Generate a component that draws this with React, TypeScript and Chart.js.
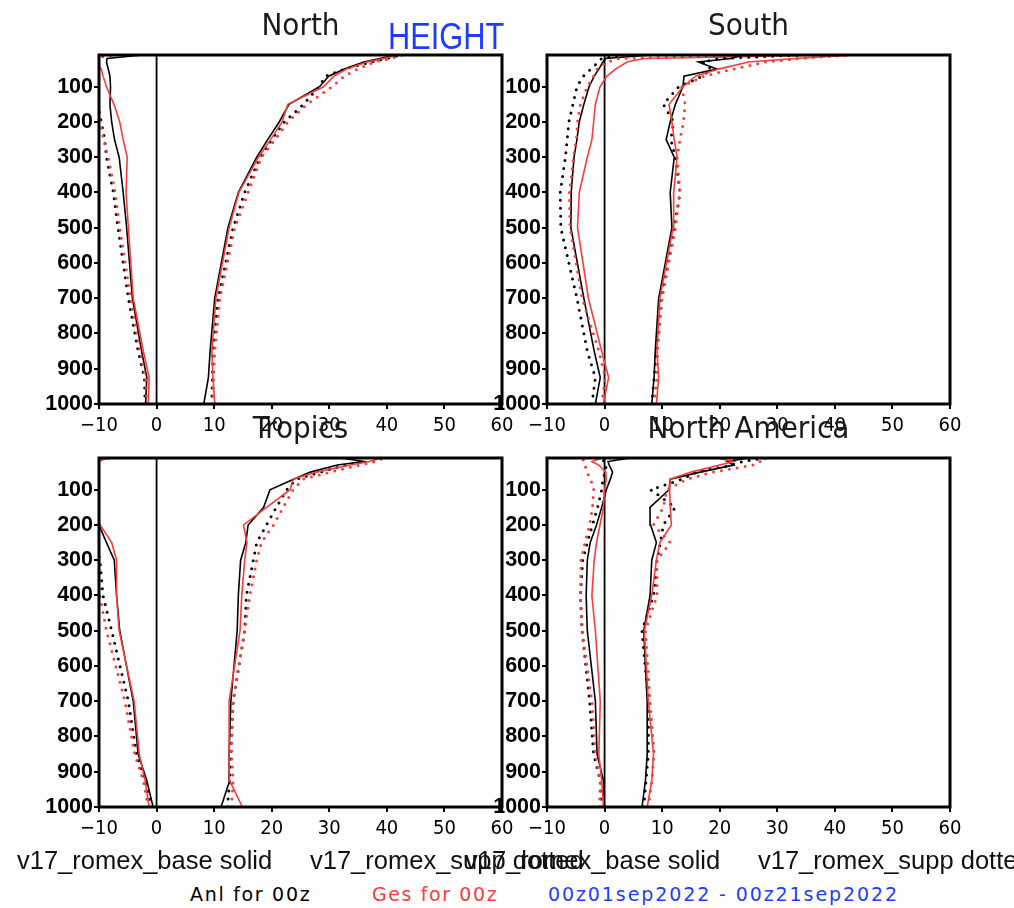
import React, { useEffect, useRef } from 'react';
import { Chart, registerables } from 'chart.js';

Chart.register(...registerables);

// ---------- data ----------
const levels = [1000, 925, 850, 700, 500, 400, 300, 250, 200, 150, 100, 70, 50, 30, 20, 10];
const xTickValues = [-10, 0, 10, 20, 30, 40, 50, 60];
const yTickValues = [100, 200, 300, 400, 500, 600, 700, 800, 900, 1000];
const panelTitles = ['North', 'South', 'Tropics', 'North America'];

// North
const northBiasBaseAnl = [-1.9, -1.7, -2.6, -4.2, -5.2, -5.8, -6.5, -7.3, -7.8, -8.1, -8.0, -8.1, -8.4, -8.7, -8.6, -2.5];
const northBiasSuppAnl = [-2.0, -2.1, -3.2, -4.9, -6.7, -7.5, -8.7, -9.0, -9.6, -10.2, -11, -11, -11, -11, -11, -9.0];
const northBiasBaseGes = [-1.45, -1.3, -2.3, -4.05, -4.9, -5.3, -5.1, -5.8, -6.4, -7.4, -8.7, -9.3, -9.6, -10.5, -11, -10.2];
const northBiasSuppGes = [-1.7, -1.9, -2.9, -4.5, -6.4, -7.2, -8.4, -9.2, -9.8, -10.5, -11, -11, -11, -11, -11, -7.5];
const northRmsBaseAnl = [8.2, 9.0, 9.3, 10.1, 12.4, 14.2, 17.4, 19.3, 21.3, 23.0, 28.3, 29.9, 32.6, 36.0, 38.8, 41.5];
const northRmsSuppAnl = [9.6, 9.7, 9.8, 10.7, 13.3, 15.3, 18.0, 20.0, 22.2, 25.5, 28.2, 29.4, 32.6, 37.2, 40.0, 42.3];
const northRmsBaseGes = [10.1, 9.8, 9.6, 10.3, 12.6, 14.3, 17.7, 19.8, 21.8, 22.8, 29.0, 30.8, 33.0, 36.6, 39.5, 42.0];
const northRmsSuppGes = [9.8, 9.9, 10.1, 11.0, 13.6, 15.9, 18.2, 20.6, 22.8, 26.1, 30.5, 32.6, 34.9, 37.8, 40.7, 42.8];

// South
const southBiasBaseAnl = [-1.6, -0.75, -1.8, -3.6, -5.85, -5.8, -5.3, -4.8, -4.4, -3.6, -2.7, -1.8, -1.0, -0.3, 0.1, 8.0];
const southBiasSuppAnl = [-2.2, -1.6, -3.0, -4.8, -7.6, -7.7, -6.8, -6.5, -6.2, -5.5, -4.8, -3.7, -2.4, -1.1, -0.5, 3.0];
const southBiasBaseGes = [-0.2, 0.7, -0.5, -2.8, -4.7, -4.4, -3.0, -2.2, -1.9, -1.6, -0.8, 0.4, 1.9, 3.9, 6.8, 40.0];
const southBiasSuppGes = [-0.5, 0.1, -1.0, -3.9, -6.0, -6.1, -5.4, -4.9, -4.7, -4.2, -3.0, -1.9, -1.3, 0.4, 2.5, 26.0];
const southRmsBaseAnl = [8.2, 8.6, 8.8, 9.4, 11.7, 11.4, 12.1, 10.7, 11.4, 12.3, 13.6, 13.8, 19.5, 16.3, 22.0, 24.0];
const southRmsSuppAnl = [8.2, 8.6, 9.0, 9.8, 12.1, 13.1, 12.3, 11.5, 12.0, 10.2, 12.9, 17.0, 18.5, 17.0, 20.0, 34.0];
const southRmsBaseGes = [9.0, 9.4, 9.1, 9.6, 11.9, 12.0, 12.6, 12.1, 11.7, 11.2, 13.6, 15.8, 19.8, 25.0, 33.0, 43.5];
const southRmsSuppGes = [8.6, 9.1, 9.2, 10.0, 12.3, 13.1, 12.6, 13.1, 13.7, 14.0, 13.4, 17.2, 22.4, 28.0, 34.0, 42.7];

// Tropics
const tropBiasBaseAnl = [-0.6, -1.7, -3.2, -4.05, -6.4, -6.95, -7.35, -8.7, -10.0, -11, -11, -11, -11, -11, -11, -9.0];
const tropBiasSuppAnl = [-0.9, -2.0, -3.5, -4.9, -7.8, -9.3, -9.85, -10.5, -11, -11, -11, -11, -11, -11, -11, -11];
const tropBiasBaseGes = [-1.3, -2.0, -3.0, -3.9, -6.5, -6.95, -6.95, -7.8, -9.8, -11, -11, -11, -11, -11, -11, -8.0];
const tropBiasSuppGes = [-1.45, -2.3, -3.8, -5.5, -8.7, -9.85, -10.1, -11, -11, -11, -11, -11, -11, -11, -11, -8.0];
const tropRmsBaseAnl = [11.2, 12.7, 12.6, 12.9, 14.0, 14.2, 14.6, 15.5, 15.9, 18.6, 19.7, 23.8, 26.7, 31.4, 36.0, 32.0];
const tropRmsSuppAnl = [12.3, 12.7, 12.9, 13.3, 15.3, 15.6, 16.8, 17.4, 19.1, 20.8, 22.6, 24.3, 28.4, 33.0, 35.9, 36.5];
const tropRmsBaseGes = [14.9, 12.7, 12.6, 12.6, 14.5, 14.8, 15.3, 15.7, 15.1, 19.1, 23.2, 23.7, 27.8, 33.6, 37.0, 39.0];
const tropRmsSuppGes = [13.0, 13.3, 13.0, 13.3, 15.3, 16.2, 17.4, 18.2, 20.3, 22.0, 23.7, 25.5, 30.1, 35.3, 38.2, 39.4];

// North America
const namBiasBaseAnl = [0.0, -0.2, -1.3, -1.6, -3.0, -3.2, -3.0, -2.5, -1.4, -0.5, 0.3, 1.0, 1.4, 0.8, 0.6, 4.5];
const namBiasSuppAnl = [-0.6, -0.75, -1.9, -2.6, -3.9, -4.2, -3.8, -3.0, -2.1, -1.2, -0.5, -0.3, 0.1, 0.3, 0.1, -1.0];
const namBiasBaseGes = [-0.2, -0.5, -1.0, -0.75, -1.6, -2.2, -1.8, -1.4, -0.8, -0.2, 0.0, 0.3, 0.2, -1.0, -2.2, -0.5];
const namBiasSuppGes = [-0.9, -0.75, -1.6, -2.2, -3.9, -4.2, -4.1, -3.4, -2.6, -2.1, -1.9, -2.4, -3.1, -3.4, -3.8, -3.6];
const namRmsBaseAnl = [6.5, 7.1, 7.4, 7.4, 6.8, 7.9, 8.2, 9.0, 8.0, 7.9, 11.2, 11.4, 16.6, 22.4, 21.3, 25.0];
const namRmsSuppAnl = [6.8, 7.2, 7.6, 7.6, 6.5, 8.5, 9.1, 9.7, 10.2, 12.3, 8.0, 13.5, 16.0, 22.0, 24.0, 28.0];
const namRmsBaseGes = [7.4, 8.2, 8.5, 7.6, 6.9, 8.2, 9.0, 9.6, 11.6, 11.4, 11.3, 11.4, 15.0, 20.0, 22.4, 19.5];
const namRmsSuppGes = [7.6, 8.2, 8.6, 7.9, 7.1, 9.1, 9.1, 11.4, 8.5, 10.2, 10.8, 14.3, 18.9, 25.8, 27.0, 27.0];

const zeroLineValues = [0, 0];
const zeroLineLevels = [10, 1000];

// ---------- styles ----------
const BLACK = '#000000';
const RED = 'rgb(250,60,60)';
const BLUE = 'rgb(30,60,255)';
const NARROW = "'Liberation Sans Narrow', 'Arial Narrow', 'DejaVu Sans Condensed', sans-serif";
const SANS = "'Liberation Sans', Arial, sans-serif";
const DEJAVU = "'DejaVu Sans', sans-serif";

type SeriesSet = [number[], number[], number[], number[], number[], number[], number[], number[]];

const panelSeries: SeriesSet[] = [
  [northBiasBaseAnl, northBiasSuppAnl, northBiasBaseGes, northBiasSuppGes, northRmsBaseAnl, northRmsSuppAnl, northRmsBaseGes, northRmsSuppGes],
  [southBiasBaseAnl, southBiasSuppAnl, southBiasBaseGes, southBiasSuppGes, southRmsBaseAnl, southRmsSuppAnl, southRmsBaseGes, southRmsSuppGes],
  [tropBiasBaseAnl, tropBiasSuppAnl, tropBiasBaseGes, tropBiasSuppGes, tropRmsBaseAnl, tropRmsSuppAnl, tropRmsBaseGes, tropRmsSuppGes],
  [namBiasBaseAnl, namBiasSuppAnl, namBiasBaseGes, namBiasSuppGes, namRmsBaseAnl, namRmsSuppAnl, namRmsBaseGes, namRmsSuppGes],
];

// style index: 0 black solid, 1 black dotted, 2 red solid, 3 red dotted
function styleFor(i: number) {
  const k = i % 4;
  const color = k < 2 ? BLACK : RED;
  const dotted = k % 2 === 1;
  return dotted
    ? { borderColor: color, borderWidth: 3, borderDash: [0, 8], borderCapStyle: 'round' as const }
    : { borderColor: color, borderWidth: 1.6, borderDash: [], borderCapStyle: 'butt' as const };
}

const framePlugin = {
  id: 'frame',
  afterDatasetsDraw(chart: any) {
    const { ctx, chartArea: a } = chart;
    ctx.save();
    ctx.strokeStyle = '#000';
    ctx.lineWidth = 3;
    ctx.strokeRect(a.left, a.top, a.right - a.left, a.bottom - a.top);
    ctx.restore();
  },
};

const CW = 540;
const CH = 444;

function Panel({ index, left, top }: { index: number; left: number; top: number }) {
  const ref = useRef<HTMLCanvasElement | null>(null);
  useEffect(() => {
    if (!ref.current) return;
    const series = panelSeries[index];
    const datasets: any[] = [];
    datasets.push({
      data: zeroLineValues.map((x, i) => ({ x, y: zeroLineLevels[i] })),
      borderColor: BLACK,
      borderWidth: 1.8,
      pointRadius: 0,
      showLine: true,
      order: 10,
    });
    series.forEach((vals, i) => {
      datasets.push({
        data: vals.map((x, j) => ({ x, y: levels[j] })),
        ...styleFor(i),
        pointRadius: 0,
        showLine: true,
        tension: 0,
        order: 8 - i,
      });
    });
    const chart = new Chart(ref.current, {
      type: 'scatter',
      data: { datasets },
      options: {
        animation: false,
        responsive: false,
        devicePixelRatio: 1,
        layout: { padding: { left: 0, right: CW - 99 - 403, top: 0, bottom: 0 } },
        plugins: {
          legend: { display: false },
          tooltip: { enabled: false },
          title: {
            display: true,
            text: panelTitles[index],
            fullSize: false,
            color: '#1a1a1a',
            font: { family: NARROW, size: 31, weight: 'normal', lineHeight: 1 },
            padding: { top: 11, bottom: 13 },
          },
        },
        scales: {
          x: {
            type: 'linear',
            position: 'bottom',
            min: -10,
            max: 60,
            afterBuildTicks: (s: any) => {
              s.ticks = xTickValues.map((v) => ({ value: v }));
            },
            afterFit: (s: any) => {
              s.height = CH - 55 - 349;
            },
            border: { display: false },
            grid: { drawOnChartArea: false, drawTicks: true, tickLength: 5, lineWidth: 2, color: '#000' },
            ticks: {
              color: '#000',
              autoSkip: false,
              maxRotation: 0,
              padding: 5,
              font: { family: NARROW, size: 20 },
              callback: (v: any) => (Number(v) < 0 ? '\u2212' + Math.abs(Number(v)) : String(v)),
            },
          },
          y: {
            type: 'linear',
            reverse: true,
            min: 10,
            max: 1000,
            afterBuildTicks: (s: any) => {
              s.ticks = yTickValues.map((v) => ({ value: v }));
            },
            afterFit: (s: any) => {
              s.width = 99;
            },
            border: { display: false },
            grid: { drawOnChartArea: false, drawTicks: true, tickLength: 5, lineWidth: 2, color: '#000' },
            ticks: {
              color: '#000',
              autoSkip: false,
              padding: 1,
              font: { family: SANS, size: 21.5, weight: 'bold' },
              callback: (v: any) => String(v),
            },
          },
        },
      } as any,
      plugins: [framePlugin],
    });
    return () => chart.destroy();
  }, [index]);
  return (
    <canvas
      ref={ref}
      width={CW}
      height={CH}
      style={{ position: 'absolute', left, top, width: CW, height: CH }}
    />
  );
}

const footerBase = 'v17_romex_base solid';
const footerSupp = 'v17_romex_supp dotted';
const footerAnl = 'Anl for 00z';
const footerGes = 'Ges for 00z';
const footerDates = '00z01sep2022 - 00z21sep2022';
const figureTitle = 'HEIGHT';

const textBase: React.CSSProperties = {
  position: 'absolute',
  whiteSpace: 'nowrap',
  lineHeight: 1,
  margin: 0,
};

export default function App() {
  return (
    <div
      style={{
        position: 'absolute',
        left: 0,
        top: 0,
        width: 1014,
        height: 908,
        overflow: 'hidden',
        background: '#ffffff',
      }}
    >
      <Panel index={0} left={0} top={0} />
      <Panel index={1} left={448} top={0} />
      <Panel index={2} left={0} top={403} />
      <Panel index={3} left={448} top={403} />

      <div
        style={{
          ...textBase,
          left: 388,
          top: 18,
          fontFamily: SANS,
          fontSize: 37.5,
          color: BLUE,
          transform: 'scaleX(0.82)',
          transformOrigin: '0 0',
        }}
      >
        {figureTitle}
      </div>

      <div style={{ ...textBase, left: 17, top: 848, fontFamily: SANS, fontSize: 25.5, color: '#111' }}>{footerBase}</div>
      <div style={{ ...textBase, left: 310, top: 848, fontFamily: SANS, fontSize: 25.5, color: '#111' }}>{footerSupp}</div>
      <div style={{ ...textBase, left: 465, top: 848, fontFamily: SANS, fontSize: 25.5, color: '#111' }}>{footerBase}</div>
      <div style={{ ...textBase, left: 758, top: 848, fontFamily: SANS, fontSize: 25.5, color: '#111' }}>{footerSupp}</div>

      <div style={{ ...textBase, left: 190, top: 885, fontFamily: DEJAVU, fontSize: 19, letterSpacing: 1.7, color: '#000' }}>{footerAnl}</div>
      <div style={{ ...textBase, left: 372, top: 885, fontFamily: DEJAVU, fontSize: 19, letterSpacing: 1.6, color: RED }}>{footerGes}</div>
      <div style={{ ...textBase, left: 548, top: 885, fontFamily: DEJAVU, fontSize: 19, letterSpacing: 1.9, color: BLUE }}>{footerDates}</div>
    </div>
  );
}
